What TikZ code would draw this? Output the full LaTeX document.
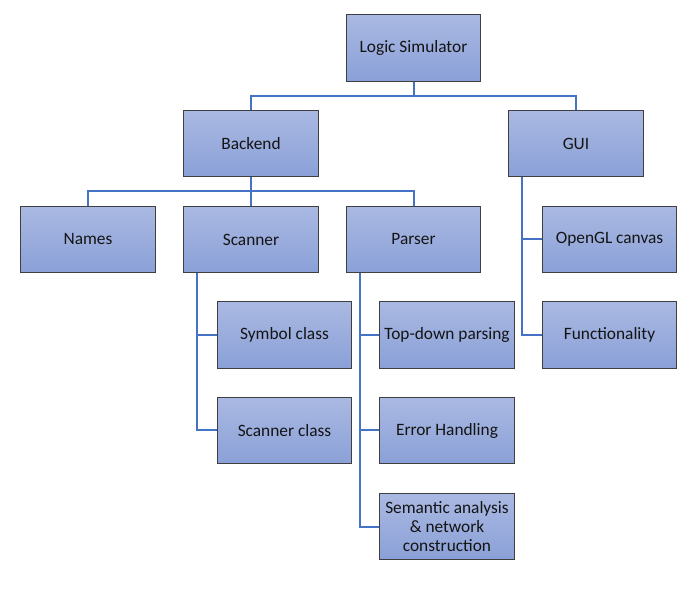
\documentclass[tikz,border=0pt]{standalone}
\usepackage{fontspec}
\setmainfont{Carlito}
\usetikzlibrary{positioning}
\definecolor{boxtop}{HTML}{AAB9E2}
\definecolor{boxbot}{HTML}{8AA0D7}
\definecolor{boxline}{HTML}{3F3F3F}
\definecolor{wire}{HTML}{4472C4}
\begin{document}
\begin{tikzpicture}[x=0.75pt,y=-0.75pt,
    part/.style={rectangle,draw=boxline,line width=0.6pt,top color=boxtop,bottom color=boxbot,
      minimum width=101pt,minimum height=50pt,inner sep=1pt,align=center,
      font=\fontsize{13}{14.3}\selectfont,text=black!92},
    wire/.style={draw=wire,line width=1.5pt}]
      \useasboundingbox (0,0) rectangle (689,591);
      % top levels
      \node at (413.5,48) [part] (logic) {Logic Simulator};
      \node at (251,143.5) [part] (backend) {Backend};
      \node at (576,143.5) [part] (gui) {GUI};
      % backend modules
      \node at (88,239.5) [part] (names) {Names};
      \node at (251,239.5) [part] (scanner) {Scanner};
      \node at (413.5,239.5) [part] (parser) {Parser};
      \node at (284.5,335) [part] (symbol) {Symbol class};
      \node at (284.5,430.5) [part] (scanclass) {Scanner class};
      \node at (447,335) [part] (topdown) {Top-down parsing};
      \node at (447,430.5) [part] (errors) {Error Handling};
      \node at (447,526.5) [part] (semantic) {Semantic analysis\\\& network\\construction};
      % gui modules
      \node at (609.5,239.5) [part] (canvas) {OpenGL canvas};
      \node at (609.5,335) [part] (funct) {Functionality};
      % connectors
      \draw[wire] (logic.south) -- ++(0,14) -| (backend.north);
      \draw[wire] (logic.south) ++(0,14) -| (gui.north);
      \draw[wire] (backend.south) -- ++(0,14) -| (names.north);
      \draw[wire] (backend.south) -- (scanner.north);
      \draw[wire] (backend.south) ++(0,14) -| (parser.north);
      \draw[wire] ([xshift=10.5pt]scanner.south west) |- (symbol.west);
      \draw[wire] ([xshift=10.5pt]scanner.south west) |- (scanclass.west);
      \draw[wire] ([xshift=10.5pt]parser.south west) |- (topdown.west);
      \draw[wire] ([xshift=10.5pt]parser.south west) |- (errors.west);
      \draw[wire] ([xshift=10.5pt]parser.south west) |- (semantic.west);
      \draw[wire] ([xshift=10.5pt]gui.south west) |- (canvas.west);
      \draw[wire] ([xshift=10.5pt]gui.south west) |- (funct.west);
  \end{tikzpicture}
\end{document}
